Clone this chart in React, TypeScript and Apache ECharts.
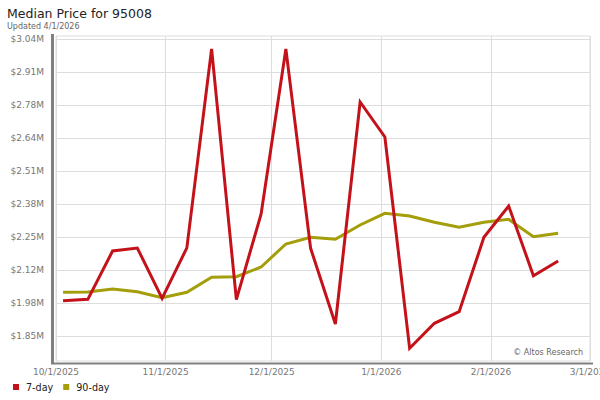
import React, { useEffect, useRef } from "react";
import * as echarts from "echarts";

const dates = [
  "2025-10-03", "2025-10-10", "2025-10-17", "2025-10-24", "2025-10-31",
  "2025-11-07", "2025-11-14", "2025-11-21", "2025-11-28", "2025-12-05",
  "2025-12-12", "2025-12-19", "2025-12-26", "2026-01-02", "2026-01-09",
  "2026-01-16", "2026-01-23", "2026-01-30", "2026-02-06", "2026-02-13",
  "2026-02-20",
];

const sevenDay = [
  1993400, 1999000, 2192500, 2204500, 2003000,
  2205000, 3002000, 1998000, 2340700, 3002000,
  2203300, 1900100, 2789400, 2649200, 1802700,
  1902900, 1949300, 2247400, 2372800, 2093600,
  2152400,
];

const ninetyDay = [
  2027100, 2028000, 2040300, 2029500, 2005400,
  2027100, 2087100, 2089600, 2128400, 2220600,
  2247400, 2239400, 2296700, 2343500, 2332700,
  2307500, 2287500, 2307500, 2319500, 2249800,
  2263400,
];

const yTickValues = [
  1850800, 1983000, 2115200, 2247400, 2379600,
  2511800, 2644000, 2776200, 2908400, 3040600,
];

const xTickDates = ["2025-10-01", "2025-11-01", "2025-12-01", "2026-01-01", "2026-02-01", "2026-03-01"];

const yMin = 1751900;
const yMax = 3053800;

const RED = "#c4121a";
const OLIVE = "#a39e0a";
const FONT = "DejaVu Sans";

function parseLocal(s: string): number {
  const [y, m, d] = s.split("-").map(Number);
  return new Date(y, m - 1, d).getTime();
}

export default function App() {
  const ref = useRef<HTMLDivElement>(null);

  useEffect(() => {
    if (!ref.current) return;
    const chart = echarts.init(ref.current, null, { renderer: "svg" });
    const xTicks = xTickDates.map(parseLocal);
    const option: any = {
      animation: false,
      backgroundColor: "#ffffff",
      textStyle: { fontFamily: FONT },
      title: {
        text: "Median Price for 95008",
        subtext: "Updated 4/1/2026",
        left: 5,
        top: 5,
        itemGap: 2,
        padding: [2, 2, 2, 2],
        textStyle: { fontFamily: FONT, fontSize: 12.5, fontWeight: "normal", color: "#222" },
        subtextStyle: { fontFamily: FONT, fontSize: 8, color: "#666" },
      },
      legend: {
        left: 8,
        top: 377,
        icon: "rect",
        itemWidth: 6,
        itemHeight: 6,
        itemGap: 10,
        data: ["7-day", "90-day"],
        textStyle: { fontFamily: FONT, fontSize: 9.6, color: "#222", padding: [0, 0, 0, 2] },
      },
      grid: {
        left: 56,
        right: 10,
        top: 36,
        bottom: 39,
        containLabel: false,
        outerBoundsMode: "none",
        show: true,
        borderColor: "#dddddd",
        borderWidth: 1,
      },
      xAxis: {
        type: "value",
        min: xTicks[0],
        max: xTicks[xTicks.length - 1],
        axisLine: { show: false },
        axisTick: { show: false, customValues: xTicks },
        splitLine: { show: true, lineStyle: { color: "#dddddd", width: 1 } },
        axisLabel: {
          customValues: xTicks,
          margin: 6,
          fontFamily: FONT,
          fontSize: 9,
          color: "#777",
          showMinLabel: true,
          showMaxLabel: true,
          hideOverlap: false,
          formatter: (v: number) => {
            const d = new Date(v);
            return `${d.getMonth() + 1}/${d.getDate()}/${d.getFullYear()}`;
          },
        },
      },
      yAxis: {
        type: "value",
        min: yMin,
        max: yMax,
        axisLine: { show: false },
        axisTick: { show: false, customValues: yTickValues },
        splitLine: { show: true, lineStyle: { color: "#dddddd", width: 1 } },
        axisLabel: {
          customValues: yTickValues,
          margin: 12,
          fontFamily: FONT,
          fontSize: 9,
          color: "#777",
          formatter: (v: number) => "$" + (v / 1e6).toFixed(2) + "M",
        },
      },
      graphic: [
        {
          type: "rect",
          z: 100,
          shape: { x: 51, y: 34, width: 3, height: 330 },
          style: { fill: "#808080" },
        },
        {
          type: "rect",
          z: 100,
          shape: { x: 51, y: 362.5, width: 542, height: 2 },
          style: { fill: "#808080" },
        },
        {
          type: "text",
          z: 100,
          x: 587,
          y: 358,
          style: {
            text: "© Altos Research",
            fontFamily: FONT,
            fontSize: 8,
            fill: "#666",
            align: "right",
            verticalAlign: "bottom",
            backgroundColor: "#ffffff",
            padding: [2, 4, 2, 4],
          },
        },
      ],
      series: [
        {
          name: "90-day",
          type: "line",
          data: dates.map((d, i) => [parseLocal(d), ninetyDay[i]]),
          symbol: "none",
          z: 2,
          itemStyle: { color: OLIVE },
          lineStyle: { color: OLIVE, width: 3, join: "miter" },
        },
        {
          name: "7-day",
          type: "line",
          data: dates.map((d, i) => [parseLocal(d), sevenDay[i]]),
          symbol: "none",
          z: 3,
          itemStyle: { color: RED },
          lineStyle: { color: RED, width: 3, join: "miter" },
        },
      ],
    };
    chart.setOption(option);
    return () => chart.dispose();
  }, []);

  return (
    <div
      ref={ref}
      style={{ position: "fixed", left: 0, top: 0, width: 600, height: 400 }}
    />
  );
}
